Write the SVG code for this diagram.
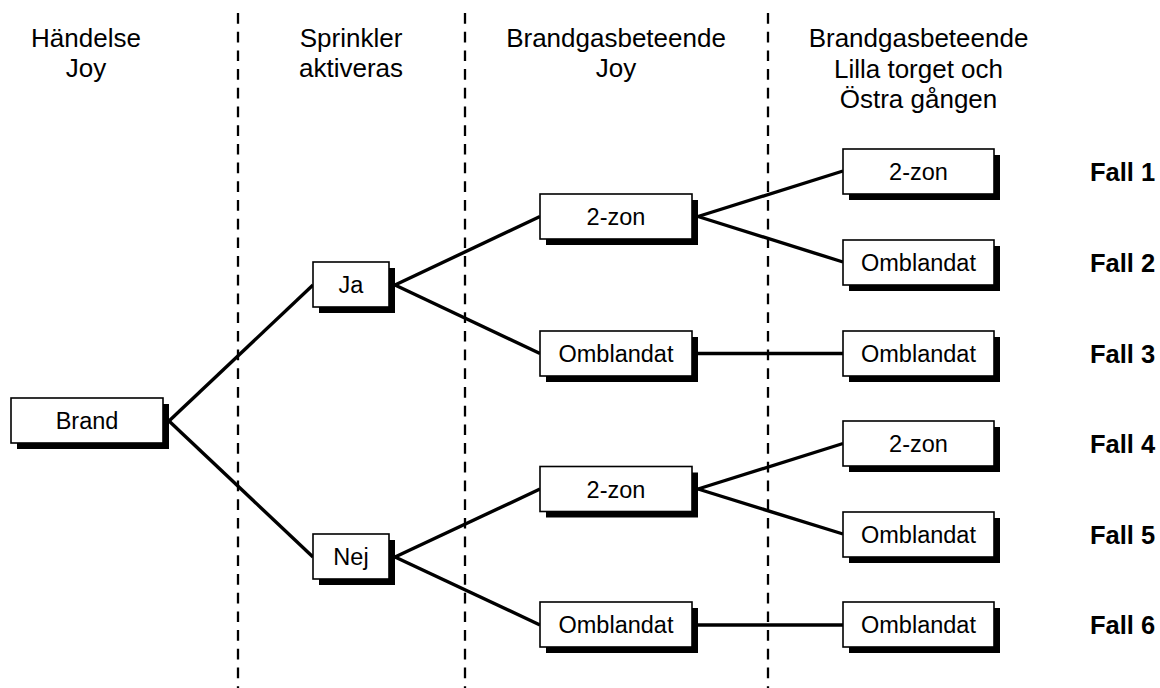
<svg xmlns="http://www.w3.org/2000/svg" width="1160" height="688" viewBox="0 0 1160 688">
<style>
.hdr{font-family:"Liberation Sans",Arial,sans-serif;font-size:26px;fill:#000;text-anchor:middle}
.lbl{font-family:"Liberation Sans",Arial,sans-serif;font-size:23.5px;fill:#000;text-anchor:middle}
.fall{font-family:"Liberation Sans",Arial,sans-serif;font-size:25.5px;font-weight:bold;fill:#000}
.box{fill:#fff;stroke:#000;stroke-width:1.6}
.sh{fill:#000}
.div{stroke:#000;stroke-width:2.3;stroke-dasharray:10.7 8;fill:none}
.con{stroke:#000;stroke-width:3.4;fill:none}
</style>
<rect width="1160" height="688" fill="#fff"/>
<g id="dividers">
<line class="div" x1="238" y1="13" x2="238" y2="688"/>
<line class="div" x1="465" y1="13" x2="465" y2="688"/>
<line class="div" x1="768" y1="13" x2="768" y2="688"/>
</g>
<g id="headers">
<text class="hdr" x="86" y="47">Händelse</text>
<text class="hdr" x="86" y="77">Joy</text>
<text class="hdr" x="351" y="47">Sprinkler</text>
<text class="hdr" x="351" y="77">aktiveras</text>
<text class="hdr" x="616" y="47">Brandgasbeteende</text>
<text class="hdr" x="616" y="77">Joy</text>
<text class="hdr" x="918.5" y="47">Brandgasbeteende</text>
<text class="hdr" x="918.5" y="77.5">Lilla torget och</text>
<text class="hdr" x="918.5" y="108">Östra gången</text>
</g>
<g id="connectors">
<line class="con" x1="169" y1="421" x2="313" y2="285"/>
<line class="con" x1="169" y1="421" x2="313" y2="557"/>
<line class="con" x1="395" y1="285" x2="540" y2="216.5"/>
<line class="con" x1="395" y1="285" x2="540" y2="353.5"/>
<line class="con" x1="395" y1="557" x2="540" y2="489"/>
<line class="con" x1="395" y1="557" x2="540" y2="625"/>
<line class="con" x1="698" y1="216.5" x2="843" y2="171"/>
<line class="con" x1="698" y1="216.5" x2="843" y2="262"/>
<line class="con" x1="698" y1="353.5" x2="843" y2="353.5"/>
<line class="con" x1="698" y1="489" x2="843" y2="443.5"/>
<line class="con" x1="698" y1="489" x2="843" y2="534"/>
<line class="con" x1="698" y1="625" x2="843" y2="625"/>
</g>
<g id="n-brand"><rect class="sh" x="17" y="404" width="152" height="45"/><rect class="box" x="11" y="398" width="152" height="45"/><text class="lbl" x="87" y="429">Brand</text></g>
<g id="n-ja"><rect class="sh" x="319" y="268" width="76" height="45"/><rect class="box" x="313" y="262" width="76" height="45"/><text class="lbl" x="351" y="293">Ja</text></g>
<g id="n-nej"><rect class="sh" x="319" y="540" width="76" height="45"/><rect class="box" x="313" y="534" width="76" height="45"/><text class="lbl" x="351" y="565">Nej</text></g>
<g id="n-m1"><rect class="sh" x="546" y="200" width="152" height="45"/><rect class="box" x="540" y="194" width="152" height="45"/><text class="lbl" x="616" y="225">2-zon</text></g>
<g id="n-m2"><rect class="sh" x="546" y="337" width="152" height="45"/><rect class="box" x="540" y="331" width="152" height="45"/><text class="lbl" x="616" y="362">Omblandat</text></g>
<g id="n-m3"><rect class="sh" x="546" y="472.5" width="152" height="45"/><rect class="box" x="540" y="466.5" width="152" height="45"/><text class="lbl" x="616" y="497.5">2-zon</text></g>
<g id="n-m4"><rect class="sh" x="546" y="608" width="152" height="45"/><rect class="box" x="540" y="602" width="152" height="45"/><text class="lbl" x="616" y="633">Omblandat</text></g>
<g id="n-r1"><rect class="sh" x="849" y="155" width="151" height="45"/><rect class="box" x="843" y="149" width="151" height="45"/><text class="lbl" x="918.5" y="180">2-zon</text></g>
<g id="n-r2"><rect class="sh" x="849" y="246" width="151" height="45"/><rect class="box" x="843" y="240" width="151" height="45"/><text class="lbl" x="918.5" y="271">Omblandat</text></g>
<g id="n-r3"><rect class="sh" x="849" y="337" width="151" height="45"/><rect class="box" x="843" y="331" width="151" height="45"/><text class="lbl" x="918.5" y="362">Omblandat</text></g>
<g id="n-r4"><rect class="sh" x="849" y="427" width="151" height="45"/><rect class="box" x="843" y="421" width="151" height="45"/><text class="lbl" x="918.5" y="452">2-zon</text></g>
<g id="n-r5"><rect class="sh" x="849" y="518" width="151" height="45"/><rect class="box" x="843" y="512" width="151" height="45"/><text class="lbl" x="918.5" y="543">Omblandat</text></g>
<g id="n-r6"><rect class="sh" x="849" y="608" width="151" height="45"/><rect class="box" x="843" y="602" width="151" height="45"/><text class="lbl" x="918.5" y="633">Omblandat</text></g>
<g id="fall-labels">
<text class="fall" x="1090" y="181">Fall 1</text>
<text class="fall" x="1090" y="272">Fall 2</text>
<text class="fall" x="1090" y="363">Fall 3</text>
<text class="fall" x="1090" y="453">Fall 4</text>
<text class="fall" x="1090" y="544">Fall 5</text>
<text class="fall" x="1090" y="634">Fall 6</text>
</g>
</svg>
